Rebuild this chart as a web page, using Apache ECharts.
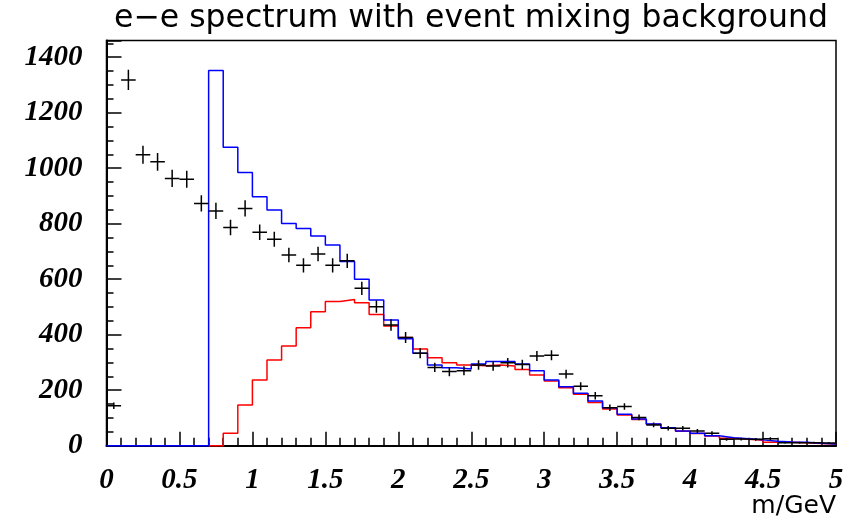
<!DOCTYPE html>
<html lang="en">
<head>
  <meta charset="UTF-8">
  <script src="https://cdn.jsdelivr.net/npm/echarts@6/dist/echarts.min.js"></script>
  <title>e-e spectrum</title>
</head>
<body>
  <div id="chart"></div>
</body>
<style>
  html,body{
    padding: 0;
    margin: 0;
    background: #fff;
  }
  #chart {
    width: 859px;
    height: 520px;
  }
</style>
</html>
<script>
// bins of 0.1 GeV from 0 to 5
const binWidth = 0.1
const nBins = 50

// measured e-e counts (crosses)
const dataCounts = [
  144, 1318, 1048, 1023, 963, 960, 873, 846, 786, 855,
  769, 744, 687, 650, 691, 650, 666, 567, 501, 435,
  390, 333, 282, 267, 270, 291, 287, 299, 293, 323,
  326, 258, 214, 180, 137, 141, 102, 75, 63, 63,
  53, 45, 23, 24, 23, 25, 11, 11, 11, 10
]

// blue histogram, all 50 bins
const blueCounts = [
  0, 0, 0, 0, 0, 0, 0, 1352, 1075, 984,
  897, 849, 801, 783, 756, 723, 664, 600, 525, 453,
  385, 333, 291, 281, 276, 294, 303, 303, 294, 270,
  237, 212, 189, 161, 137, 113, 96, 78, 65, 53,
  45, 36, 29, 25, 21, 16, 13, 12, 9, 6
]

// red histogram (event mixing background), drawn from bin 0.7 on
const redFirstBin = 7
const redCounts = [
  0, 45, 147,
  237, 309, 359, 425, 483, 520, 527, 515, 473, 431,
  390, 348, 317, 299, 291, 288, 291, 287, 275, 255,
  233, 209, 185, 156, 132, 111, 94, 77, 64, 52,
  44, 35, 27, 23, 20, 12, 12, 11, 8, 6
]

const yTicks = [0, 200, 400, 600, 800, 1000, 1200, 1400]

const binEdge = i => +(i * binWidth).toFixed(2)

// step line points: left edge of each bin + closing right edge
const toSteps = (counts, first) => {
  const pts = counts.map((v, i) => [binEdge(first + i), v])
  pts.push([binEdge(first + counts.length), counts[counts.length - 1]])
  return pts
}

const crossData = dataCounts.map((v, i) => [binEdge(i) + binWidth / 2, v])

const labelFont = {
  fontFamily: 'Liberation Serif',
  fontStyle: 'italic',
  fontWeight: 'bold',
  fontSize: 29,
  color: '#000'
}

const tickStyle = { color: '#000', width: 1.5 }

const option = {
  animation: false,
  backgroundColor: '#fff',
  grid: {
    left: 106.5,
    top: 40.5,
    width: 729.5,
    height: 405.2,
    show: true,
    borderColor: '#000',
    borderWidth: 1.5,
    backgroundColor: 'transparent'
  },
  graphic: [
    {
      type: 'text',
      left: 114,
      top: 3,
      style: {
        text: 'e\u2212e spectrum with event mixing background',
        font: '31.5px "DejaVu Sans"',
        fill: '#000'
      }
    },
    {
      type: 'text',
      right: 23,
      top: 494,
      style: {
        text: 'm/GeV',
        font: '25px "DejaVu Sans"',
        fill: '#000'
      }
    }
  ],
  xAxis: {
    type: 'value',
    min: 0,
    max: 5,
    interval: 0.5,
    axisLine: { show: true, lineStyle: { color: '#000', width: 2 } },
    axisTick: { show: true, inside: true, length: 14, lineStyle: tickStyle },
    minorTick: { show: true, splitNumber: 5, length: 8, lineStyle: tickStyle },
    splitLine: { show: false },
    axisLabel: Object.assign({ margin: 20 }, labelFont)
  },
  yAxis: [
    {
      type: 'value',
      min: 0,
      max: 1460,
      interval: 200,
      axisLine: { show: true, lineStyle: { color: '#000', width: 2 } },
      axisTick: { show: true, inside: true, length: 15, lineStyle: tickStyle },
      splitLine: { show: false },
      axisLabel: Object.assign({
        margin: 24,
        formatter: v => yTicks.includes(v) ? String(v) : ''
      }, labelFont)
    },
    {
      type: 'value',
      position: 'left',
      min: 0,
      max: 1460,
      interval: 50,
      axisLine: { show: false },
      axisTick: { show: true, inside: true, length: 7, lineStyle: tickStyle },
      splitLine: { show: false },
      axisLabel: { show: false }
    }
  ],
  series: [
    {
      name: 'mixing',
      type: 'line',
      step: 'end',
      symbol: 'none',
      clip: false,
      data: toSteps(redCounts, redFirstBin),
      lineStyle: { color: '#ff0000', width: 1.5 },
      z: 3
    },
    {
      name: 'signal',
      type: 'line',
      step: 'end',
      symbol: 'none',
      clip: false,
      data: toSteps(blueCounts, 0),
      lineStyle: { color: '#0000ff', width: 1.5 },
      z: 4
    },
    {
      name: 'data',
      type: 'custom',
      clip: true,
      z: 5,
      data: crossData,
      renderItem: (params, api) => {
        const x = api.value(0)
        const y = api.value(1)
        const err = Math.sqrt(y)
        const l = api.coord([x - binWidth / 2, y])
        const r = api.coord([x + binWidth / 2, y])
        const t = api.coord([x, y + err])
        const b = api.coord([x, y - err])
        const style = { stroke: '#000', lineWidth: 1.5 }
        return {
          type: 'group',
          children: [
            { type: 'line', shape: { x1: l[0], y1: l[1], x2: r[0], y2: r[1] }, style },
            { type: 'line', shape: { x1: t[0], y1: t[1], x2: b[0], y2: b[1] }, style }
          ]
        }
      }
    }
  ]
}

const myChart = echarts.init(document.getElementById('chart'))
myChart.setOption(option)
</script>
